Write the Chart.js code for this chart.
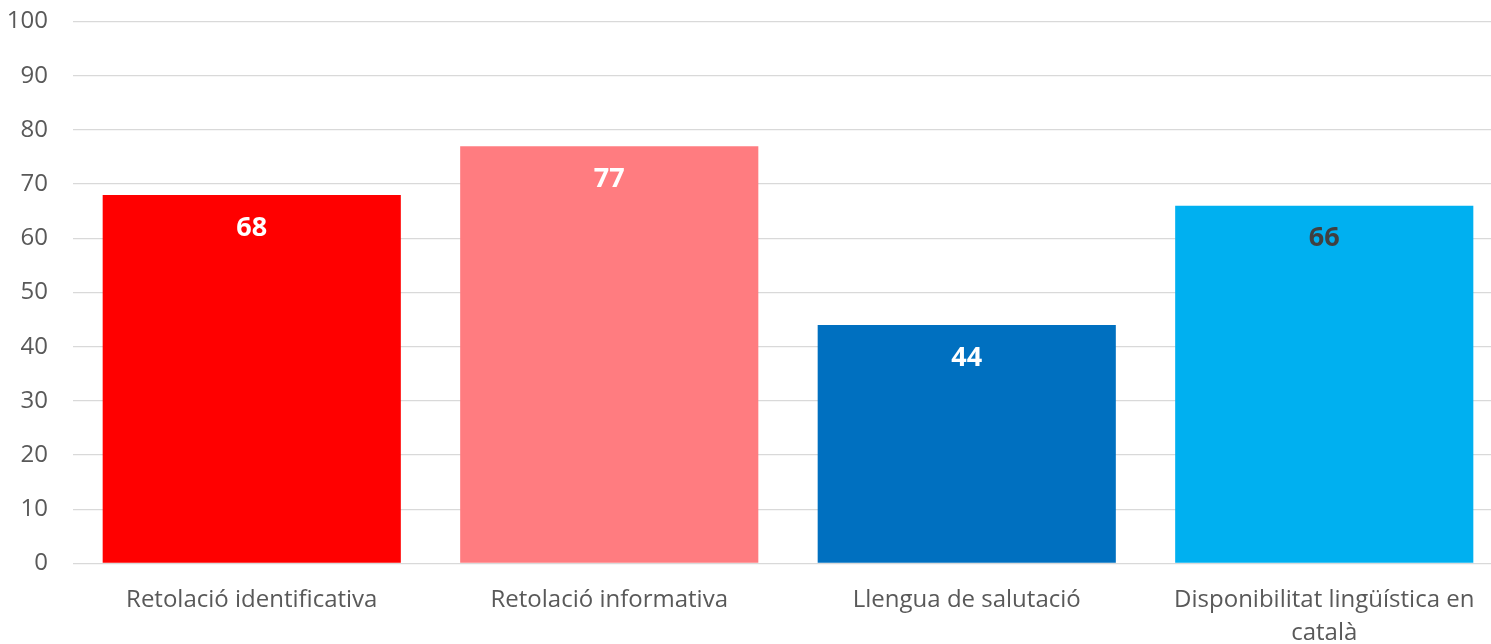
<!DOCTYPE html>
<html>
<head>
<meta charset="utf-8">
<script src="https://cdn.jsdelivr.net/npm/chart.js@4"></script>
<style>
html,body{margin:0;padding:0;background:#fff;overflow:hidden;}
#wrap{width:1503px;height:644px;position:relative;}
</style>
</head>
<body>
<div id="wrap"><canvas id="c"></canvas></div>
<script>
const categories = [
  "Retolació identificativa",
  "Retolació informativa",
  "Llengua de salutació",
  ["Disponibilitat lingüística en", "català"]
];
const values = [68, 77, 44, 66];
const barColors = ["#FF0000", "#FF7C80", "#0070C0", "#00B0F0"];
const labelColors = ["#FFFFFF", "#FFFFFF", "#FFFFFF", "#404040"];
const yTicks = [0, 10, 20, 30, 40, 50, 60, 70, 80, 90, 100];

const FONT = "'Open Sans', 'Noto Sans', sans-serif";

const valueLabels = {
  id: 'valueLabels',
  afterDatasetsDraw(chart) {
    const ctx = chart.ctx;
    const meta = chart.getDatasetMeta(0);
    ctx.save();
    ctx.font = "bold 27px " + FONT;
    ctx.textAlign = 'center';
    ctx.textBaseline = 'middle';
    meta.data.forEach((bar, i) => {
      ctx.fillStyle = labelColors[i];
      ctx.fillText(String(values[i]), bar.x, bar.y + 33);
    });
    ctx.restore();
  }
};

new Chart(document.getElementById('c'), {
  type: 'bar',
  data: {
    labels: categories,
    datasets: [{
      data: values,
      backgroundColor: barColors,
      borderWidth: 0,
      barPercentage: 0.834,
      categoryPercentage: 1
    }]
  },
  options: {
    responsive: true,
    maintainAspectRatio: false,
    animation: false,
    layout: { padding: { left: 0, top: 21.5, right: 0, bottom: 0 } },
    plugins: { legend: { display: false }, tooltip: { enabled: false } },
    scales: {
      x: {
        grid: { display: false, drawTicks: false },
        border: { display: false },
        afterFit(axis) { axis.height = 80.5; axis.paddingLeft = 0; axis.paddingRight = 0; axis.paddingTop = 0; axis.paddingBottom = 0; },
        ticks: {
          color: '#595959',
          font: { family: FONT, size: 24, lineHeight: 1.37 },
          padding: 20,
          maxRotation: 0,
          autoSkip: false
        }
      },
      y: {
        min: 0, max: 100,
        afterBuildTicks(axis) { axis.ticks = yTicks.map(v => ({ value: v })); },
        afterFit(axis) { axis.width = 73; axis.paddingTop = 0; axis.paddingBottom = 0; axis.paddingLeft = 0; axis.paddingRight = 0; },
        grid: { color: '#D9D9D9', lineWidth: 1.3, drawTicks: false },
        border: { display: false },
        ticks: {
          color: '#595959',
          font: { family: FONT, size: 24 },
          padding: 25
        }
      }
    }
  },
  plugins: [valueLabels]
});
</script>
</body>
</html>
